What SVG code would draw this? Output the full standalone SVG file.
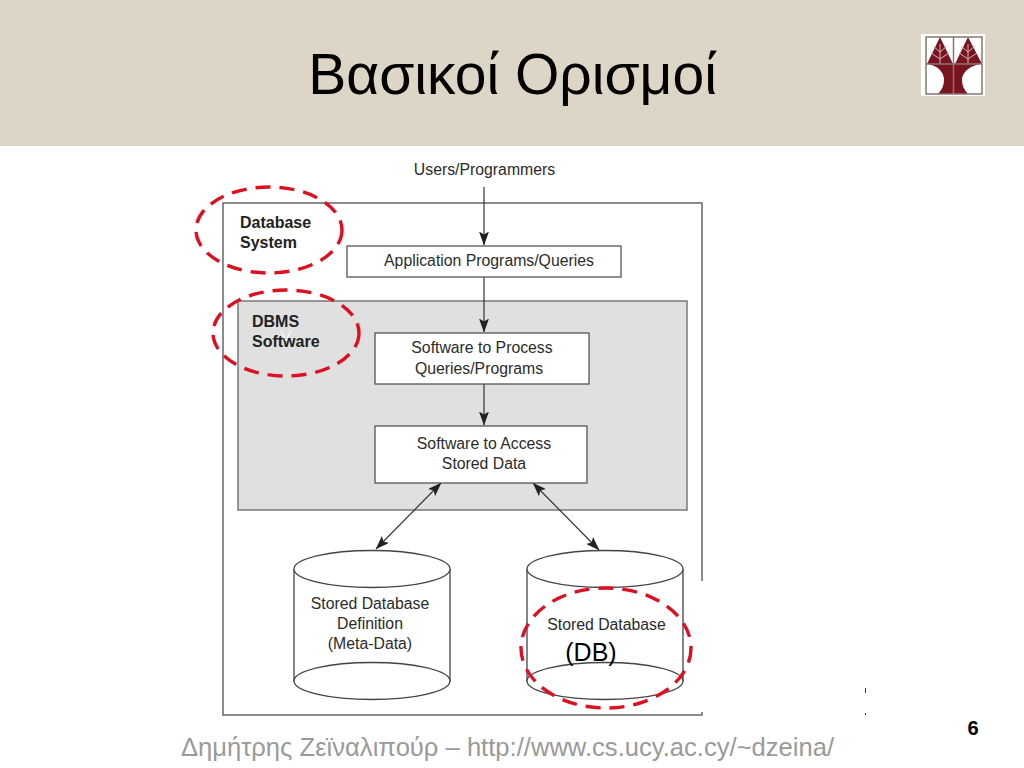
<svg xmlns="http://www.w3.org/2000/svg" width="1024" height="768" viewBox="0 0 1024 768">
<style>
.t{font-family:"Liberation Sans",Arial,sans-serif}
.d{font-size:15.8px;fill:#2b2b2b;text-anchor:middle}
.b{font-size:16px;font-weight:bold;fill:#222}
.box{fill:#fff;stroke:#555;stroke-width:1.3}
.line{fill:none;stroke:#333;stroke-width:1.2}
.cyl{fill:#fff;stroke:#444;stroke-width:1.3}
.dash{fill:none;stroke:#dc1020;stroke-width:3.4;stroke-dasharray:15 9}
</style>
<defs>
<marker id="a" viewBox="0 0 14 10" refX="13.5" refY="5" markerWidth="14" markerHeight="10" orient="auto-start-reverse" markerUnits="userSpaceOnUse"><path d="M0 0L14 5L0 10L3 5Z" fill="#222"/></marker>
</defs>
<rect width="1024" height="768" fill="#fff"/>
<rect id="header" width="1024" height="146" fill="#ddd5c5"/>
<text class="t" x="512.500" y="94" font-size="57" text-anchor="middle" fill="#000">Βασικοί Ορισμοί</text>
<g id="logo">
<rect x="921" y="34" width="64" height="62" fill="#fff"/>
<path d="M940 37L953 64H927Z M968 37L982 64H955Z" fill="#7a1420"/>
<path d="M940 44V64M968 44V64M940 52L933 46M940 52L947 46M940 59L931 53M940 59L949 53M968 52L961 46M968 52L975 46M968 59L959 53M968 59L977 53" stroke="#d8b8b0" stroke-width="1" fill="none"/>
<path d="M928 64H980C970 66 962 72 962 80C962 85 964 90 968 94H938C942 90 944 85 944 80C944 72 938 66 928 64Z" fill="#7a1420"/>
<path d="M926 37H953.500V94H926ZM953.500 37H982V94H953.500ZM926 64H982" fill="none" stroke="#8a7570" stroke-width="1.500"/>
</g>
<g id="database-system">
<rect x="223" y="203" width="479" height="512" fill="#fff" stroke="#666" stroke-width="1.500"/>
<rect x="698" y="581" width="8" height="131" fill="#fff"/>
<text class="t b" x="240" y="228">Database</text>
<text class="t b" x="240" y="248">System</text>
</g>
<g id="dbms-software">
<rect x="238" y="301" width="449" height="209" fill="#e0e0e0" stroke="#666" stroke-width="1.300"/>
<text class="t b" x="252" y="327">DBMS</text>
<text class="t b" x="252" y="347">Software</text>
<path d="M281 330L286 341L291 330" fill="none" stroke="#fff" stroke-width="1"/>
</g>
<g id="connectors">
<path class="line" d="M484 187V245" marker-end="url(#a)"/>
<path class="line" d="M484 277V332" marker-end="url(#a)"/>
<path class="line" d="M484 384V425" marker-end="url(#a)"/>
<path class="line" d="M441 483L376 549" marker-start="url(#a)" marker-end="url(#a)"/>
<path class="line" d="M533 483L599 550" marker-start="url(#a)" marker-end="url(#a)"/>
</g>
<g id="users"><text class="t d" x="484.500" y="175">Users/Programmers</text></g>
<g id="application-programs">
<rect class="box" x="347" y="246" width="274" height="31"/>
<text class="t d" x="489" y="266">Application Programs/Queries</text>
</g>
<g id="software-process">
<rect class="box" x="375" y="333" width="214" height="51"/>
<text class="t d" x="482" y="353">Software to Process</text>
<text class="t d" x="479" y="374">Queries/Programs</text>
</g>
<g id="software-access">
<rect class="box" x="375" y="426" width="212" height="57"/>
<text class="t d" x="484" y="449">Software to Access</text>
<text class="t d" x="484" y="469">Stored Data</text>
</g>
<g id="metadata">
<path class="cyl" d="M294 569V681H450V569"/>
<ellipse class="cyl" cx="372" cy="569" rx="78" ry="18.500"/>
<ellipse class="cyl" cx="372" cy="681" rx="78" ry="18.500"/>
<text class="t d" x="370" y="609">Stored Database</text>
<text class="t d" x="370" y="629">Definition</text>
<text class="t d" x="370" y="649">(Meta-Data)</text>
</g>
<g id="stored-db">
<path class="cyl" d="M527 569V681H683V569"/>
<ellipse class="cyl" cx="605" cy="569" rx="78" ry="18.500"/>
<ellipse class="cyl" cx="605" cy="681" rx="78" ry="18.500"/>
<text class="t d" x="606.500" y="630">Stored Database</text>
<text class="t" x="591" y="661" font-size="25" text-anchor="middle" fill="#000">(DB)</text>
</g>
<g id="highlights">
<ellipse class="dash" cx="269" cy="230" rx="73" ry="43"/>
<ellipse class="dash" cx="286" cy="333" rx="73" ry="43"/>
<ellipse class="dash" cx="606" cy="648" rx="85" ry="60"/>
</g>
<g id="specks" fill="#333">
<rect x="865" y="688" width="1" height="5"/>
<rect x="865" y="713" width="1" height="2"/>
</g>
<text class="t" x="507.500" y="756" font-size="25.600" text-anchor="middle" fill="#9a9a9a">Δημήτρης Ζεϊναλιπούρ – http://www.cs.ucy.ac.cy/~dzeina/</text>
<text class="t" x="973" y="735" font-size="20" font-weight="bold" text-anchor="middle" fill="#000">6</text>
</svg>
